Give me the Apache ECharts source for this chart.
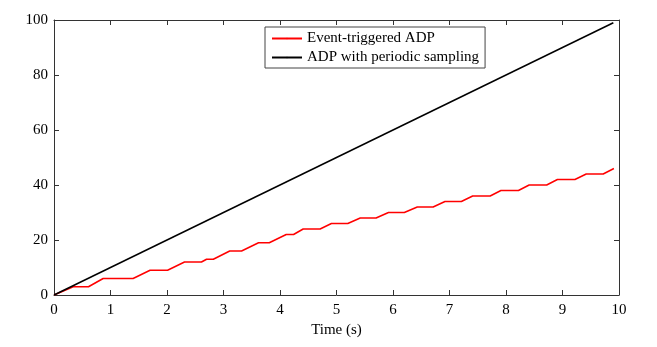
<!DOCTYPE html>
<html>
<head>
<meta charset="utf-8">
<script src="https://cdn.jsdelivr.net/npm/echarts@6/dist/echarts.min.js"></script>
<style>
  html, body { margin: 0; padding: 0; background: #fff; }
  #chart { width: 657px; height: 347px; }
</style>
</head>
<body>
<div id="chart"></div>
<script>
// event-triggered ADP: step-like curve
const eventTime = [0, 0.34, 0.61, 0.87, 1.40, 1.70, 2.01, 2.31, 2.61, 2.70, 2.82, 3.11, 3.32, 3.62, 3.81,
  4.11, 4.24, 4.41, 4.71, 4.91, 5.20, 5.42, 5.70, 5.92, 6.20, 6.43, 6.71, 6.92, 7.21, 7.41, 7.72,
  7.91, 8.22, 8.41, 8.72, 8.91, 9.22, 9.42, 9.72, 9.91];
const eventValue = [0, 3, 3, 6, 6, 9, 9, 12, 12, 13, 13, 16, 16, 19, 19,
  22, 22, 24, 24, 26, 26, 28, 28, 30, 30, 32, 32, 34, 34, 36, 36,
  38, 38, 40, 40, 42, 42, 44, 44, 46];
// periodic sampling: straight line
const periodicTime = [0, 9.9];
const periodicValue = [0, 99];

const font = 'Liberation Serif';
const axisColor = '#333';

const chart = echarts.init(document.getElementById('chart'));

const baseX = {
  type: 'value',
  min: 0,
  max: 10,
  interval: 1,
  axisLine: { show: true, onZero: false, lineStyle: { color: axisColor, width: 1 } },
  axisTick: { show: true, inside: true, length: 5, lineStyle: { color: axisColor } },
  splitLine: { show: false }
};
const baseY = {
  type: 'value',
  min: 0,
  max: 100,
  interval: 20,
  axisLine: { show: true, onZero: false, lineStyle: { color: axisColor, width: 1 } },
  axisTick: { show: true, inside: true, length: 5, lineStyle: { color: axisColor } },
  splitLine: { show: false }
};

const option = {
  animation: false,
  grid: { left: 54, right: 38, top: 20, bottom: 52 },
  legend: {
    orient: 'vertical',
    left: 265,
    top: 27,
    width: 222,
    padding: [4, 6, 3, 6],
    itemGap: 4,
    itemWidth: 30,
    itemHeight: 2,
    backgroundColor: '#fff',
    borderColor: '#444',
    borderWidth: 1,
    textStyle: { fontFamily: font, fontSize: 15, color: '#000' },
    data: ['Event-triggered ADP', 'ADP with periodic sampling']
  },
  xAxis: [
    Object.assign({}, baseX, {
      position: 'bottom',
      name: 'Time (s)',
      nameLocation: 'middle',
      nameGap: 24,
      nameTextStyle: { fontFamily: font, fontSize: 15, color: '#000' },
      axisLabel: { fontFamily: font, fontSize: 15, color: '#000', margin: 8 }
    }),
    Object.assign({}, baseX, { position: 'top', axisLabel: { show: false } })
  ],
  yAxis: [
    Object.assign({}, baseY, {
      position: 'left',
      axisLabel: { fontFamily: font, fontSize: 15, color: '#000', margin: 6 }
    }),
    Object.assign({}, baseY, { position: 'right', axisLabel: { show: false } })
  ],
  series: [
    {
      name: 'Event-triggered ADP',
      type: 'line',
      symbol: 'none',
      lineStyle: { color: '#ff0000', width: 1.5 },
      itemStyle: { color: '#ff0000' },
      data: eventTime.map((t, i) => [t, eventValue[i]])
    },
    {
      name: 'ADP with periodic sampling',
      type: 'line',
      symbol: 'none',
      lineStyle: { color: '#000', width: 1.5 },
      itemStyle: { color: '#000' },
      data: periodicTime.map((t, i) => [t, periodicValue[i]])
    }
  ]
};

chart.setOption(option);
</script>
</body>
</html>
